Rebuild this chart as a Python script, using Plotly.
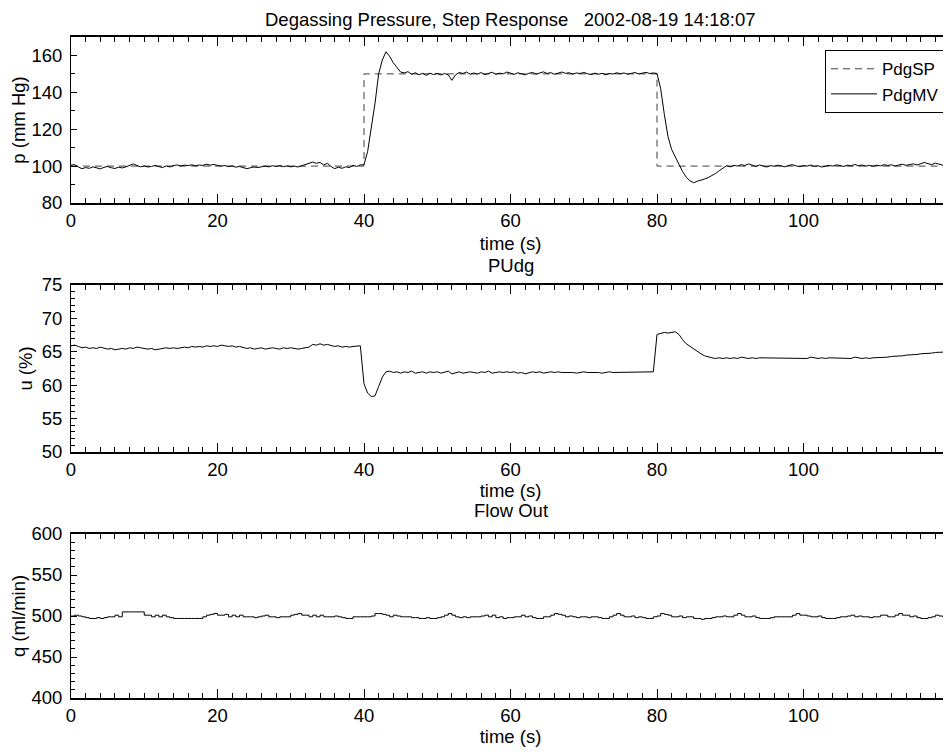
import plotly.graph_objects as go

# sample times (s), 0.5 s spacing
t = [i * 0.5 for i in range(241)]

# setpoint breakpoints
sp_t = [0, 40, 80, 120]
sp_v = [100, 150, 100, 100]

p_mv = [
    100.5, 100.8, 99.5, 98.6, 99.2, 98.8, 99.6, 99.0, 98.5, 99.3, 99.8, 99.1, 98.7, 99.4, 99.0, 99.6, 100.2, 101.2, 100.3, 99.6,
    100.1, 99.5, 99.8, 100.4, 99.7, 99.2, 100.1, 99.5, 100.3, 100.6, 100.1, 100.5, 100.3, 100.7, 100.2, 100.6, 100.4, 101.0, 100.5, 100.9,
    100.4, 100.0, 100.3, 99.7, 100.1, 99.4, 99.8, 99.0, 98.6, 99.1, 99.5, 99.2, 99.7, 100.0, 99.6, 100.2, 99.8, 100.3, 99.7, 100.1,
    99.6, 100.0, 99.5, 100.2, 100.6, 101.3, 102.2, 101.5, 102.0, 100.6, 101.5, 99.8, 98.6, 99.4, 98.8, 99.6, 99.2, 100.4, 99.8, 100.6,
    100.8, 108.0, 121.0, 134.0, 150.0, 157.5, 162.0, 159.5, 156.0, 153.5, 151.0, 150.5, 151.2, 149.8, 150.6, 149.5, 150.3, 149.2, 150.4, 149.6,
    150.3, 149.4, 150.2, 149.5, 146.5, 149.5, 150.8, 150.2, 151.0, 149.8, 150.5, 149.9, 150.7, 149.6, 150.2, 150.9, 149.8, 150.4, 150.0, 151.0,
    150.4, 149.7, 150.6, 150.1, 149.5, 150.3, 150.8, 149.9, 150.5, 151.1, 150.2, 150.7, 149.8, 150.4, 151.0, 150.3, 150.6, 149.9, 150.5, 150.2,
    150.8, 150.1, 149.6, 150.4, 149.8, 150.3, 149.5, 150.2, 149.9, 150.6, 150.1, 150.5, 149.8, 150.3, 150.7, 150.0, 150.4, 150.8, 150.2, 150.5,
    150.2, 142.0, 128.0, 116.0, 109.0, 104.5, 101.0, 97.0, 94.0, 92.0, 91.0, 91.8, 92.2, 93.0, 93.8, 94.8, 96.0, 97.5, 99.0, 100.2,
    99.6, 100.4, 100.0, 100.8, 100.3, 101.2, 100.5, 99.8, 100.6, 100.1, 99.5, 100.3, 99.9, 100.5, 100.0, 99.6, 100.4, 100.8, 100.1, 99.7,
    100.3, 100.0, 100.6, 99.8, 100.2, 99.5, 99.9, 100.4, 100.0, 100.7, 100.3, 99.8, 100.5, 100.1, 100.9, 100.2, 100.6, 100.0, 100.4, 99.9,
    100.5, 100.1, 100.8, 100.3, 100.7, 100.0, 100.6, 101.0, 100.4, 100.9, 101.2, 100.6, 101.5, 102.0, 101.3, 100.8, 101.6, 101.0, 100.5, 101.2,
    100.8,
]

u_pct = [
    65.9, 66.0, 65.8, 65.6, 65.7, 65.5, 65.6, 65.5, 65.7, 65.6, 65.4, 65.5, 65.3, 65.4, 65.5, 65.4, 65.6, 65.5, 65.7, 65.6,
    65.5, 65.4, 65.5, 65.3, 65.4, 65.5, 65.6, 65.5, 65.6, 65.5, 65.6, 65.7, 65.6, 65.8, 65.7, 65.8, 65.7, 65.9, 65.8, 65.9,
    65.8, 66.0, 65.9, 65.8, 65.9, 65.7, 65.8, 65.6, 65.5, 65.6, 65.4, 65.5, 65.6, 65.4, 65.5, 65.6, 65.5, 65.4, 65.6, 65.5,
    65.6, 65.5, 65.4, 65.5, 65.6, 65.7, 66.1, 66.0, 66.2, 66.0, 66.1, 65.9, 65.8, 65.9, 65.7, 65.8, 65.7, 65.8, 65.8, 65.9,
    60.2, 58.8, 58.3, 58.4, 59.8, 61.2, 62.0, 62.1, 61.9, 62.0, 61.8, 62.0, 61.9, 62.1, 61.8, 61.9, 62.0, 61.8, 62.0, 61.9,
    62.0, 61.8, 61.9, 62.1, 61.7, 61.9, 62.0, 61.8, 61.9, 62.0, 61.9, 61.8, 62.0, 61.9, 62.1, 61.8, 61.9, 62.0, 61.9, 62.0,
    61.9, 62.0, 61.8, 61.9, 61.7, 61.9, 62.0, 61.9, 62.0, 61.8, 61.9, 62.0, 61.9, 62.0, 61.9, 61.9, 62.0, 61.9, 61.8, 61.9,
    62.0, 61.9, 61.9, 62.0, 61.9, 61.8, 61.9, 62.0, 61.9, 61.9, 62.0, 61.9, 61.9, 62.0, 61.9, 61.9, 62.0, 61.9, 62.0, 62.0,
    67.6, 67.8, 67.9, 67.8, 67.9, 68.0, 67.6, 66.8, 66.2, 65.8, 65.4, 65.0, 64.7, 64.4, 64.2, 64.1, 64.0, 64.1, 64.0, 64.1,
    64.0, 64.1, 64.0, 64.2, 64.1, 64.0, 64.1, 64.0, 64.1, 64.1, 64.0, 64.1, 64.0, 64.1, 64.0, 64.0, 64.1, 64.0, 64.1, 64.0,
    64.1, 64.0, 64.2, 64.1, 64.0, 64.1, 64.0, 64.1, 64.1, 64.0, 64.1, 64.0, 64.1, 64.0, 64.2, 64.1, 64.0, 64.1, 64.0, 64.1,
    64.1, 64.2, 64.1, 64.2, 64.3, 64.3, 64.4, 64.4, 64.5, 64.5, 64.6, 64.6, 64.7, 64.7, 64.8, 64.8, 64.9, 64.9, 65.0, 65.0,
    65.0,
]

q_flow = [
    500, 501, 500, 499, 498, 497, 497, 498, 497, 498, 499, 499, 501, 499, 505, 505, 505, 505, 505, 505,
    501, 501, 499, 501, 499, 501, 499, 498, 497, 497, 497, 497, 497, 497, 497, 497, 499, 501, 502, 503,
    501, 501, 502, 499, 501, 499, 501, 499, 499, 499, 498, 499, 500, 501, 499, 499, 498, 499, 499, 499,
    501, 502, 503, 501, 501, 499, 501, 499, 501, 499, 499, 499, 500, 499, 498, 497, 497, 499, 499, 499,
    499, 499, 500, 503, 503, 502, 501, 499, 501, 500, 499, 499, 499, 498, 498, 497, 497, 498, 497, 497,
    498, 499, 501, 503, 501, 499, 498, 499, 498, 499, 499, 499, 500, 501, 499, 501, 498, 499, 497, 498,
    498, 499, 499, 501, 499, 500, 498, 497, 497, 499, 499, 501, 503, 502, 501, 499, 500, 499, 498, 499,
    499, 498, 499, 499, 498, 497, 497, 499, 501, 503, 501, 499, 499, 500, 498, 499, 498, 497, 497, 499,
    500, 503, 502, 501, 499, 499, 500, 498, 499, 499, 497, 497, 496, 497, 497, 498, 499, 499, 500, 499,
    499, 501, 503, 501, 499, 499, 500, 498, 497, 497, 497, 498, 499, 499, 499, 499, 499, 501, 503, 501,
    501, 500, 499, 499, 500, 498, 497, 497, 497, 498, 499, 499, 500, 501, 499, 500, 499, 499, 498, 499,
    499, 501, 501, 499, 499, 501, 503, 501, 501, 499, 500, 498, 497, 497, 498, 499, 501, 500, 499, 499,
    499,
]

assert len(p_mv) == len(t) and len(u_pct) == len(t) and len(q_flow) == len(t)

x_ticks = [0, 20, 40, 60, 80, 100]
FONT = "Liberation Sans, Arial, Helvetica, sans-serif"
FS = 18.5

fig = go.Figure()
fig.add_trace(go.Scatter(x=sp_t, y=sp_v, mode="lines", name="PdgSP", line_shape="hv",
                         line=dict(color="#404040", width=1, dash="7px,5px"), xaxis="x", yaxis="y"))
fig.add_trace(go.Scatter(x=t, y=p_mv, mode="lines", name="PdgMV",
                         line=dict(color="black", width=1), xaxis="x", yaxis="y"))
fig.add_trace(go.Scatter(x=t, y=u_pct, mode="lines", showlegend=False,
                         line=dict(color="black", width=1), xaxis="x2", yaxis="y2"))
fig.add_trace(go.Scatter(x=t, y=q_flow, mode="lines", showlegend=False, line_shape="hv",
                         line=dict(color="black", width=1), xaxis="x3", yaxis="y3"))


def xax(anchor, standoff):
    return dict(anchor=anchor, range=[0, 120], tickvals=x_ticks, ticks="inside", ticklen=9,
                tickcolor="black", showline=True, linecolor="black", linewidth=2, mirror="ticks",
                showgrid=False, zeroline=False,
                title=dict(text="time (s)", standoff=standoff, font=dict(size=FS)),
                minor=dict(ticks="inside", dtick=2, ticklen=5, tickcolor="black", showgrid=False),
                tickfont=dict(size=FS))


def yax(anchor, dom, rng, dtick, mdtick, title):
    return dict(anchor=anchor, domain=dom, range=rng, dtick=dtick, ticks="inside", ticklen=6,
                tickcolor="black", showline=True, linecolor="black", linewidth=1, mirror="ticks",
                showgrid=False, zeroline=False, ticklabelstandoff=4,
                title=dict(text=title, standoff=4, font=dict(size=FS)),
                minor=dict(ticks="inside", dtick=mdtick, ticklen=4, tickcolor="black", showgrid=False),
                tickfont=dict(size=FS))


fig.update_layout(
    width=943, height=746,
    margin=dict(l=63, r=1, t=29, b=56),
    paper_bgcolor="white", plot_bgcolor="white",
    font=dict(family=FONT, size=FS, color="black"),
    xaxis=xax("y", 7), xaxis2=xax("y2", 2), xaxis3=xax("y3", 0),
    yaxis=yax("x", [0.7489, 1.0], [80, 170], 20, 10, "p (mm Hg)"),
    yaxis2=yax("x2", [0.3722, 0.6248], [50, 75], 5, 1, "u (%)"),
    yaxis3=yax("x3", [0.0, 0.2481], [400, 600], 50, 10, "q (ml/min)"),
    legend=dict(x=0.9943, y=0.980, xanchor="right", yanchor="top", bgcolor="white",
                bordercolor="black", borderwidth=1, itemwidth=46, tracegroupgap=0,
                font=dict(size=17)),
    showlegend=True,
    annotations=[
        dict(text="Degassing Pressure, Step Response\u00a0\u00a0\u00a02002-08-19 14:18:07",
             xref="paper", yref="paper", x=0.5, y=1.0, yshift=18, yanchor="middle",
             showarrow=False, font=dict(size=FS)),
        dict(text="PUdg", xref="paper", yref="paper", x=0.5, y=0.6248, yshift=20, yanchor="middle",
             showarrow=False, font=dict(size=FS)),
        dict(text="Flow Out", xref="paper", yref="paper", x=0.5, y=0.2481, yshift=24, yanchor="middle",
             showarrow=False, font=dict(size=FS)),
    ],
)

fig.write_html("out.html")
